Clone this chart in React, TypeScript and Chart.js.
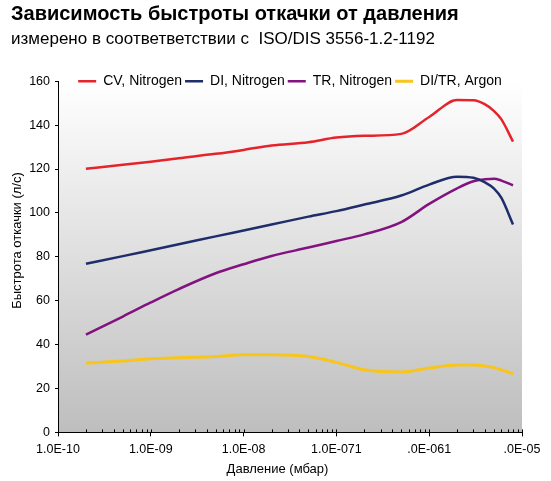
import React, { useEffect, useRef } from 'react';
import { Chart, registerables } from 'chart.js';

Chart.register(...registerables);

const FONT = "'Liberation Sans', Arial, sans-serif";

const TITLE = 'Зависимость быстроты откачки от давления';
const SUBTITLE = 'измерено в соответветствии с  ISO/DIS 3556-1.2-1192';
const X_TITLE = 'Давление (мбар)';
const Y_TITLE = 'Быстрота откачки (л/с)';

const PRESSURE = [2e-10, 5e-10, 1e-9, 2e-9, 5e-9, 1e-8, 2e-8, 5e-8, 1e-7, 2e-7, 5e-7, 1e-6, 2e-6, 3e-6, 4e-6, 5e-6, 6e-6, 8e-6];
const CV_N2 = [120.1, 121.9, 123.3, 124.9, 126.9, 128.7, 130.7, 132.2, 134.3, 135.1, 136.0, 143.7, 151.4, 151.3, 149.4, 146.4, 142.6, 132.5];
const DI_N2 = [76.8, 80.3, 83.0, 85.7, 89.3, 92.0, 94.7, 98.3, 100.8, 103.8, 107.9, 112.9, 116.5, 116.0, 113.9, 111.1, 106.8, 94.7];
const TR_N2 = [44.6, 52.8, 59.2, 65.3, 72.5, 76.6, 80.4, 84.2, 87.2, 90.2, 95.8, 104.1, 111.2, 114.4, 115.3, 115.6, 114.7, 112.6];
const DITR_AR = [31.6, 32.5, 33.5, 34.0, 34.6, 35.4, 35.4, 34.6, 31.9, 28.5, 27.5, 29.3, 30.7, 30.7, 30.2, 29.5, 28.5, 26.7];

const SERIES_NAMES = ['CV, Nitrogen', 'DI, Nitrogen', 'TR, Nitrogen', 'DI/TR, Argon'];
const SERIES_VALUES = [CV_N2, DI_N2, TR_N2, DITR_AR];
const SERIES_COLORS = ['#e5232b', '#1f2d6b', '#82127f', '#f7c51c'];
const SERIES_WIDTHS = [2.5, 2.5, 2.5, 3];

const X_DECADES = [1e-10, 1e-9, 1e-8, 1e-7, 1e-6, 1e-5];
const X_TICK_LABELS = ['1.0E-10', '1.0E-09', '1.0E-08', '1.0E-071', '.0E-061', '.0E-05'];
const X_MINOR_STEPS = [2, 3, 4, 5, 6, 7, 8, 9];

const Y_MIN = 0;
const Y_MAX = 160;
const Y_STEP = 20;

const LEGEND_PADDING = 3;

const plotBackground = {
  id: 'plotBackground',
  beforeDraw(chart: any) {
    const { ctx, chartArea: a } = chart;
    const g = ctx.createLinearGradient(0, a.top, 0, a.bottom);
    g.addColorStop(0, '#ffffff');
    g.addColorStop(1, '#bebebe');
    ctx.save();
    ctx.fillStyle = g;
    ctx.fillRect(a.left, a.top, a.right - a.left, a.bottom - a.top);
    ctx.restore();
  },
};

const insideTicks = {
  id: 'insideTicks',
  afterDraw(chart: any) {
    const { ctx, chartArea: a } = chart;
    const xs = chart.scales.x;
    ctx.save();
    ctx.strokeStyle = '#000';
    ctx.lineWidth = 1;
    ctx.beginPath();
    xs.ticks.forEach((t: any) => {
      const px = Math.round(xs.getPixelForValue(t.value)) + 0.5;
      ctx.moveTo(px, a.bottom);
      ctx.lineTo(px, a.bottom - 3);
    });
    ctx.stroke();
    ctx.restore();
  },
};

// Axis titles are centred on the whole chart (as Excel does), not on the plot area.
const axisTitles = {
  id: 'axisTitles',
  afterDraw(chart: any) {
    const { ctx } = chart;
    const xs = chart.scales.x;
    ctx.save();
    ctx.fillStyle = '#000';
    ctx.font = `13px ${FONT}`;
    ctx.textAlign = 'center';
    ctx.textBaseline = 'middle';
    ctx.fillText(X_TITLE, chart.width / 2 + 2, xs.bottom - 8);
    ctx.translate(17.5, chart.height / 2);
    ctx.rotate(-Math.PI / 2);
    ctx.fillText(Y_TITLE, 0, 0);
    ctx.restore();
  },
};

// The legend row sits on the top edge of the plot area, as in the reference.
const legendOnTop = {
  id: 'legendOnTop',
  afterLayout(chart: any) {
    const lg = chart.legend;
    if (lg) {
      const h = lg.bottom - lg.top;
      lg.top = chart.chartArea.top - 7 - LEGEND_PADDING;
      lg.bottom = lg.top + h;
    }
  },
};

export default function App() {
  const ref = useRef<HTMLCanvasElement>(null);

  useEffect(() => {
    document.body.style.margin = '0';
    const xTicks: any[] = [];
    X_DECADES.forEach((d, i) => {
      xTicks.push({ value: d, major: true });
      if (i < X_DECADES.length - 1) {
        X_MINOR_STEPS.forEach((m) => xTicks.push({ value: m * d, major: false }));
      }
    });

    const chart = new Chart(ref.current as HTMLCanvasElement, {
      type: 'line',
      data: {
        datasets: SERIES_NAMES.map((name, s) => ({
          label: name,
          data: PRESSURE.map((p, i) => ({ x: p, y: SERIES_VALUES[s][i] })),
          borderColor: SERIES_COLORS[s],
          backgroundColor: SERIES_COLORS[s],
          borderWidth: SERIES_WIDTHS[s],
          pointRadius: 0,
          pointHoverRadius: 0,
          cubicInterpolationMode: 'monotone',
          fill: false,
        })),
      },
      options: {
        animation: false,
        responsive: false,
        events: [],
        layout: { padding: { left: 11, right: 29, top: 0, bottom: 4 } },
        plugins: {
          title: {
            display: true,
            text: TITLE,
            align: 'start',
            color: '#000',
            font: { family: FONT, size: 20, weight: 'bold' },
            padding: { top: 2, bottom: 2 },
          },
          subtitle: {
            display: true,
            text: SUBTITLE,
            align: 'start',
            color: '#000',
            font: { family: FONT, size: 17 },
            padding: { top: 1, bottom: 4.8 },
          },
          legend: {
            display: true,
            position: 'top',
            align: 'center',
            fullSize: false,
            labels: {
              usePointStyle: true,
              pointStyle: 'line',
              pointStyleWidth: 18,
              padding: LEGEND_PADDING,
              color: '#000',
              font: { family: FONT, size: 14 },
            },
          },
          tooltip: { enabled: false },
        },
        scales: {
          x: {
            type: 'logarithmic',
            min: X_DECADES[0],
            max: X_DECADES[X_DECADES.length - 1],
            afterBuildTicks: (scale: any) => {
              scale.ticks = xTicks.map((t) => ({ ...t }));
            },
            afterFit: (scale: any) => {
              scale.height = 44.6;
            },
            border: { display: true, color: '#000', width: 1 },
            grid: {
              display: true,
              drawOnChartArea: false,
              drawTicks: true,
              tickLength: 4,
              tickWidth: 1,
              tickColor: (ctx: any) => (ctx.tick && ctx.tick.major ? '#000' : 'rgba(0,0,0,0)'),
            },
            ticks: {
              autoSkip: false,
              maxRotation: 0,
              minRotation: 0,
              padding: 6,
              color: '#000',
              font: { family: FONT, size: 12.5 },
              callback: (value: any) => {
                const i = X_DECADES.findIndex((d) => Math.abs(d - Number(value)) / d < 1e-6);
                return i >= 0 ? X_TICK_LABELS[i] : '';
              },
            },
            title: { display: false },
          },
          y: {
            type: 'linear',
            min: Y_MIN,
            max: Y_MAX,
            afterFit: (scale: any) => {
              scale.width = 47;
            },
            border: { display: true, color: '#000', width: 1 },
            grid: {
              display: true,
              drawOnChartArea: false,
              drawTicks: true,
              tickLength: 3,
              tickColor: '#000',
            },
            ticks: {
              stepSize: Y_STEP,
              padding: 5,
              color: '#000',
              font: { family: FONT, size: 12.5 },
            },
            title: { display: false },
          },
        },
      },
      plugins: [plotBackground, insideTicks, axisTitles, legendOnTop],
    } as any);

    return () => chart.destroy();
  }, []);

  return (
    <div style={{ width: 551, height: 481, background: '#fff' }}>
      <canvas ref={ref} width={551} height={481} style={{ display: 'block', width: 551, height: 481 }} />
    </div>
  );
}
